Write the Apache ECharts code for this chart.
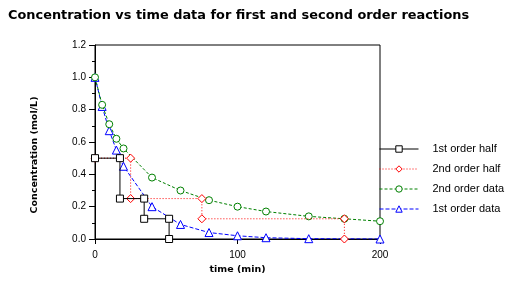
<!DOCTYPE html>
<html>
<head>
<meta charset="utf-8">
<script src="https://cdn.jsdelivr.net/npm/echarts@6/dist/echarts.min.js"></script>
<style>html,body{margin:0;padding:0;background:#fff}#c{width:510px;height:283px}</style>
</head>
<body>
<div id="c"></div>
<script>
// 1st order half-life steps
var half1T = [0, 17.5, 17.5, 34.5, 34.5, 52, 52];
var half1C = [0.5, 0.5, 0.25, 0.25, 0.125, 0.125, 0];
// 2nd order half-life steps
var half2T = [0, 25, 25, 75, 75, 175, 175];
var half2C = [0.5, 0.5, 0.25, 0.25, 0.125, 0.125, 0];
// 2nd order data
var data2T = [0, 5, 10, 15, 20, 40, 60, 80, 100, 120, 150, 175, 200];
var data2C = [1.0, 0.83, 0.71, 0.62, 0.56, 0.38, 0.30, 0.24, 0.20, 0.17, 0.14, 0.125, 0.11];
// 1st order data
var data1T = [0, 5, 10, 15, 20, 40, 60, 80, 100, 120, 150, 200];
var data1C = [1.0, 0.82, 0.67, 0.55, 0.45, 0.20, 0.09, 0.04, 0.02, 0.008, 0.002, 0.0];

var seriesNames = ['1st order half', '2nd order half', '2nd order data', '1st order data'];

function pairs(t, c) { return t.map(function (v, i) { return [v, c[i]]; }); }

var chart = echarts.init(document.getElementById('c'), null, { renderer: 'canvas' });
var font = 'Liberation Sans';
chart.setOption({
  animation: false,
  backgroundColor: '#fff',
  title: {
    text: 'Concentration vs time data for first and second order reactions',
    left: 8, top: 8, padding: 0,
    textStyle: { fontFamily: 'DejaVu Sans', fontWeight: 'bold', fontSize: 12.9, color: '#000', lineHeight: 16 }
  },
  legend: {
    orient: 'vertical',
    left: 379, top: 143, padding: 0,
    itemWidth: 39, itemHeight: 8, itemGap: 8,
    data: seriesNames,
    lineStyle: { width: 1 },
    itemStyle: { borderWidth: 1 },
    textStyle: { fontFamily: font, fontSize: 11, color: '#000', lineHeight: 12, padding: [0, 0, 0, 9] }
  },
  grid: { left: 95, right: 130, top: 45, bottom: 44, show: true, borderColor: '#000', borderWidth: 1, backgroundColor: 'transparent' },
  xAxis: {
    type: 'value', min: 0, max: 200, interval: 100,
    name: 'time (min)', nameLocation: 'middle', nameGap: 22,
    nameTextStyle: { fontFamily: 'DejaVu Sans', fontWeight: 'bold', fontSize: 9.5, color: '#000' },
    axisLine: { show: true, lineStyle: { color: '#000', width: 1 } },
    axisTick: { show: true, inside: false, length: 5, lineStyle: { color: '#000' } },
    axisLabel: { fontFamily: font, fontSize: 10, color: '#000', margin: 11 },
    splitLine: { show: false }
  },
  yAxis: {
    type: 'value', min: 0, max: 1.2, interval: 0.2,
    name: 'Concentration (mol/L)', nameLocation: 'middle', nameGap: 55,
    nameTextStyle: { fontFamily: 'DejaVu Sans', fontWeight: 'bold', fontSize: 9.5, color: '#000', padding: [0, 26, 0, 0] },
    axisLine: { show: true, lineStyle: { color: '#000', width: 1 } },
    axisTick: { show: true, inside: false, length: 6, lineStyle: { color: '#000' } },
    minorTick: { show: true, splitNumber: 2, length: 3, lineStyle: { color: '#000' } },
    axisLabel: { fontFamily: font, fontSize: 10, color: '#000', margin: 9, formatter: function (v) { return v.toFixed(1); } },
    splitLine: { show: false }
  },
  series: [
    {
      name: seriesNames[3], type: 'line', z: 2, data: pairs(data1T, data1C),
      symbol: 'triangle', symbolSize: 8,
      lineStyle: { color: '#0000ff', width: 1, type: [4, 2] },
      itemStyle: { color: '#fff', borderColor: '#0000ff', borderWidth: 1 }
    },
    {
      name: seriesNames[2], type: 'line', z: 3, data: pairs(data2T, data2C),
      symbol: 'circle', symbolSize: 7,
      lineStyle: { color: '#008000', width: 1, type: [3, 2] },
      itemStyle: { color: '#fff', borderColor: '#008000', borderWidth: 1 }
    },
    {
      name: seriesNames[1], type: 'line', z: 4, data: pairs(half2T, half2C),
      symbol: 'diamond', symbolSize: 8,
      lineStyle: { color: '#ff0000', width: 1, type: [1, 2] },
      itemStyle: { color: '#fff', borderColor: '#ff0000', borderWidth: 1 }
    },
    {
      name: seriesNames[0], type: 'line', z: 5, data: pairs(half1T, half1C),
      symbol: 'rect', symbolSize: 7,
      lineStyle: { color: '#000', width: 1 },
      itemStyle: { color: '#fff', borderColor: '#000', borderWidth: 1 }
    }
  ]
});
</script>
</body>
</html>
